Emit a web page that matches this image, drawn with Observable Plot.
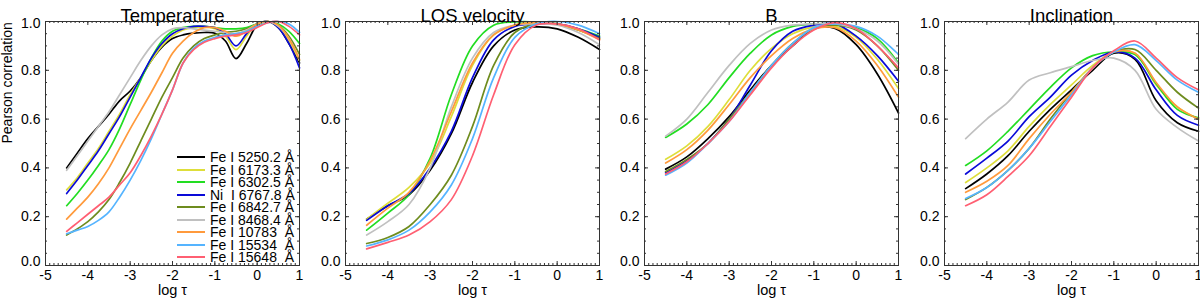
<!DOCTYPE html>
<html><head><meta charset="utf-8">
<script src="https://cdn.jsdelivr.net/npm/d3@7"></script>
<script src="https://cdn.jsdelivr.net/npm/@observablehq/plot@0.6"></script>
<style>
body{margin:0;background:#fff;}
#wrap{position:relative;width:1200px;height:302px;overflow:hidden;font-family:"Liberation Sans",Arial,sans-serif;}
.panel{position:absolute;top:0;}
#legend{position:absolute;left:177px;top:151px;font-size:14px;color:#000;}
.row{height:12.5px;line-height:12.5px;white-space:pre;display:flex;align-items:center;}
.sw{width:28px;height:2px;margin-right:5px;flex:none;}
</style></head><body><div id="wrap"></div><script>
// ---- categories ----
const lineNames = ["Fe I 5250.2 Å","Fe I 6173.3 Å","Fe I 6302.5 Å","Ni  I 6767.8 Å","Fe I 6842.7 Å","Fe I 8468.4 Å","Fe I 10783  Å","Fe I 15534  Å","Fe I 15648  Å"];
const lineColors = ["#000000","#dede3a","#22dd22","#0a0ad8","#6e8c1e","#c0c0c0","#ff9a3c","#55b4ff","#ff5f72"];
const panelTitles = ["Temperature","LOS velocity","B","Inclination"];
const xTicks = [-5,-4,-3,-2,-1,0,1];
const yTicks = [0,0.2,0.4,0.6,0.8,1.0];

// ---- x grids (log tau) ----
const logTauT = [-4.5,-4.25,-4,-3.75,-3.5,-3.25,-3,-2.75,-2.5,-2.25,-2,-1.75,-1.5,-1.25,-1,-0.75,-0.5,-0.25,0,0.25,0.5,0.75,1];
const logTau = [-4.5,-4,-3.5,-3,-2.5,-2,-1.5,-1,-0.5,0,0.5,1];

// ---- Temperature (one array per line, order of lineNames) ----
const tempBlack  = [0.40,0.46,0.52,0.57,0.62,0.675,0.715,0.77,0.84,0.895,0.93,0.945,0.952,0.955,0.952,0.92,0.848,0.91,0.985,1.0,0.975,0.91,0.83];
const tempYellow = [0.31,0.36,0.42,0.48,0.55,0.62,0.70,0.77,0.84,0.90,0.94,0.965,0.975,0.978,0.97,0.94,0.885,0.94,0.99,1.0,0.98,0.92,0.84];
const tempGreen  = [0.245,0.295,0.35,0.41,0.475,0.56,0.66,0.76,0.85,0.92,0.96,0.975,0.98,0.98,0.975,0.97,0.97,0.975,0.99,1.0,0.99,0.96,0.91];
const tempBlue   = [0.295,0.35,0.41,0.47,0.54,0.61,0.69,0.77,0.85,0.91,0.95,0.97,0.98,0.98,0.975,0.95,0.90,0.95,0.99,1.0,0.975,0.91,0.81];
const tempOlive  = [0.125,0.15,0.18,0.22,0.27,0.34,0.42,0.51,0.60,0.69,0.77,0.85,0.90,0.93,0.945,0.955,0.96,0.97,0.99,1.0,0.985,0.94,0.865];
const tempGrey   = [0.39,0.45,0.51,0.57,0.63,0.70,0.77,0.84,0.90,0.945,0.97,0.975,0.97,0.965,0.96,0.955,0.95,0.965,0.99,1.0,0.98,0.93,0.84];
const tempOrange = [0.19,0.235,0.28,0.335,0.40,0.48,0.56,0.635,0.71,0.79,0.87,0.92,0.955,0.975,0.975,0.96,0.94,0.96,0.99,1.0,0.985,0.93,0.845];
const tempLBlue  = [0.13,0.145,0.16,0.185,0.22,0.28,0.35,0.43,0.52,0.62,0.72,0.83,0.89,0.92,0.935,0.945,0.95,0.96,0.98,0.995,1.0,0.99,0.955];
const tempPink   = [0.14,0.175,0.21,0.245,0.28,0.33,0.38,0.45,0.53,0.62,0.72,0.83,0.885,0.915,0.93,0.94,0.945,0.955,0.975,0.995,1.0,0.98,0.945];

// ---- LOS velocity ----
const losBlack  = [0.19,0.245,0.29,0.39,0.54,0.75,0.90,0.965,0.978,0.97,0.935,0.885];
const losYellow = [0.19,0.255,0.32,0.42,0.61,0.82,0.945,0.985,0.995,0.99,0.965,0.93];
const losGreen  = [0.145,0.215,0.29,0.44,0.70,0.90,0.985,0.998,0.998,0.99,0.97,0.94];
const losBlue   = [0.185,0.245,0.295,0.40,0.55,0.77,0.925,0.98,0.99,0.99,0.97,0.935];
const losOlive  = [0.09,0.115,0.16,0.25,0.37,0.57,0.82,0.955,0.99,0.99,0.965,0.93];
const losGrey   = [0.125,0.18,0.25,0.40,0.65,0.85,0.955,0.985,0.99,0.985,0.955,0.905];
const losOrange = [0.165,0.235,0.30,0.43,0.63,0.83,0.945,0.985,0.995,0.99,0.965,0.925];
const losLBlue  = [0.08,0.105,0.145,0.22,0.33,0.52,0.77,0.935,0.99,1.0,0.985,0.95];
const losPink   = [0.068,0.095,0.125,0.18,0.27,0.45,0.70,0.905,0.985,0.99,0.97,0.925];

// ---- B ----
const bBlack  = [0.395,0.445,0.52,0.61,0.72,0.82,0.90,0.97,0.972,0.905,0.785,0.625];
const bYellow = [0.435,0.49,0.57,0.68,0.80,0.89,0.95,0.978,0.98,0.935,0.845,0.725];
const bGreen  = [0.525,0.58,0.66,0.77,0.87,0.945,0.98,0.99,0.99,0.975,0.93,0.83];
const bBlue   = [0.38,0.43,0.50,0.60,0.74,0.88,0.96,0.985,0.99,0.94,0.86,0.755];
const bOlive  = [0.385,0.435,0.50,0.60,0.71,0.82,0.91,0.97,0.985,0.965,0.90,0.80];
const bGrey   = [0.53,0.60,0.71,0.82,0.91,0.965,0.985,0.99,0.99,0.97,0.92,0.825];
const bOrange = [0.42,0.475,0.555,0.66,0.77,0.86,0.93,0.97,0.975,0.92,0.82,0.69];
const bLBlue  = [0.37,0.42,0.50,0.59,0.71,0.82,0.91,0.975,0.99,0.98,0.94,0.865];
const bPink   = [0.375,0.425,0.50,0.59,0.70,0.81,0.90,0.965,0.995,0.97,0.90,0.81];

// ---- Inclination ----
const incBlack  = [0.315,0.375,0.45,0.55,0.64,0.72,0.80,0.87,0.845,0.675,0.585,0.55];
const incYellow = [0.34,0.40,0.47,0.57,0.66,0.74,0.82,0.875,0.87,0.74,0.65,0.60];
const incGreen  = [0.41,0.47,0.55,0.64,0.73,0.81,0.86,0.875,0.865,0.745,0.64,0.605];
const incBlue   = [0.375,0.44,0.51,0.61,0.69,0.78,0.84,0.875,0.85,0.72,0.615,0.575];
const incOlive  = [0.27,0.32,0.39,0.48,0.60,0.71,0.81,0.875,0.885,0.80,0.71,0.645];
const incGrey   = [0.52,0.60,0.67,0.76,0.79,0.815,0.84,0.85,0.80,0.64,0.565,0.51];
const incOrange = [0.30,0.345,0.41,0.52,0.62,0.71,0.81,0.875,0.87,0.75,0.65,0.60];
const incLBlue  = [0.275,0.32,0.39,0.48,0.59,0.70,0.81,0.875,0.905,0.84,0.76,0.71];
const incPink   = [0.245,0.29,0.365,0.45,0.57,0.69,0.81,0.88,0.92,0.85,0.77,0.72];

const panels = [
  {title: panelTitles[0], xs: logTauT, series: [tempBlack,tempYellow,tempGreen,tempBlue,tempOlive,tempGrey,tempOrange,tempLBlue,tempPink]},
  {title: panelTitles[1], xs: logTau, series: [losBlack,losYellow,losGreen,losBlue,losOlive,losGrey,losOrange,losLBlue,losPink]},
  {title: panelTitles[2], xs: logTau, series: [bBlack,bYellow,bGreen,bBlue,bOlive,bGrey,bOrange,bLBlue,bPink]},
  {title: panelTitles[3], xs: logTau, series: [incBlack,incYellow,incGreen,incBlue,incOlive,incGrey,incOrange,incLBlue,incPink]}
];

const xMinor = d3.range(-50, 11).map(d => d / 10);
const yMinor = d3.range(0, 21).map(d => d / 20);
const W = 254, H = 244, ML = 45, MT = 21;
const lefts = [0, 300, 599, 899];
const fontFam = '"Liberation Sans", Arial, Helvetica, sans-serif';
const axisCol = "#333";
const TF = 14; // tick label font size

const wrap = document.getElementById("wrap");
panels.forEach((p, i) => {
  const data = p.series.flatMap((vals, j) => vals.map((v, k) => ({x: p.xs[k], y: v, line: lineNames[j]})));
  const yMid = yTicks.slice(1, -1);
  const svg = Plot.plot({
    width: 300, height: 302,
    marginLeft: ML, marginRight: 1, marginTop: MT, marginBottom: 302 - MT - H,
    style: {background: "transparent", fontFamily: fontFam, color: "#000", overflow: "visible"},
    x: {domain: [-5, 1], axis: null},
    y: {domain: [0, 1], axis: null},
    color: {domain: lineNames, range: lineColors},
    marks: [
      Plot.line(data, {x: "x", y: "y", z: "line", stroke: "line", strokeWidth: 1.7, curve: "catmull-rom"}),
      Plot.frame({stroke: axisCol, strokeWidth: 1}),
      Plot.tickX(xMinor, {x: d => d, insetTop: H - 2, stroke: axisCol}),
      Plot.tickX(xMinor, {x: d => d, insetBottom: H - 2, stroke: axisCol}),
      Plot.tickX(xTicks, {x: d => d, insetTop: H - 4, stroke: axisCol}),
      Plot.tickX(xTicks, {x: d => d, insetBottom: H - 4, stroke: axisCol}),
      Plot.tickY(yMinor, {y: d => d, insetRight: W - 2, stroke: axisCol}),
      Plot.tickY(yMinor, {y: d => d, insetLeft: W - 2, stroke: axisCol}),
      Plot.tickY(yTicks, {y: d => d, insetRight: W - 4, stroke: axisCol}),
      Plot.tickY(yTicks, {y: d => d, insetLeft: W - 4, stroke: axisCol}),
      // x tick labels
      Plot.text(xTicks, {x: d => d, text: d => String(d), frameAnchor: "bottom", dy: 14, fontSize: TF}),
      // y tick labels (IDL nudges the end labels inward)
      Plot.text(yMid, {y: d => d, text: d => d.toFixed(1), frameAnchor: "left", textAnchor: "end", dx: -5, fontSize: TF}),
      Plot.text([yTicks[0]], {y: d => d, text: d => d.toFixed(1), frameAnchor: "left", textAnchor: "end", dx: -5, dy: -4, fontSize: TF}),
      Plot.text([yTicks[yTicks.length - 1]], {y: d => d, text: d => d.toFixed(1), frameAnchor: "left", textAnchor: "end", dx: -5, dy: 2, fontSize: TF}),
      Plot.text([p.title], {text: d => d, frameAnchor: "top", dy: -13, fontSize: 18.5}),
      Plot.text(["log τ"], {text: d => d, frameAnchor: "bottom", dy: 29, fontSize: 14.5}),
      i === 0 ? Plot.text(["Pearson correlation"], {text: d => d, frameAnchor: "left", dx: -38, rotate: -90, fontSize: 14}) : null
    ]
  });
  const div = document.createElement("div");
  div.className = "panel";
  div.style.left = lefts[i] + "px";
  div.appendChild(svg);
  wrap.appendChild(div);
});

// legend inside Temperature panel
const leg = document.createElement("div");
leg.id = "legend";
lineNames.forEach((n, j) => {
  const r = document.createElement("div");
  r.className = "row";
  const s = document.createElement("span");
  s.className = "sw";
  s.style.background = lineColors[j];
  const t = document.createElement("span");
  t.textContent = n;
  r.appendChild(s); r.appendChild(t);
  leg.appendChild(r);
});
wrap.appendChild(leg);
</script></body></html>
